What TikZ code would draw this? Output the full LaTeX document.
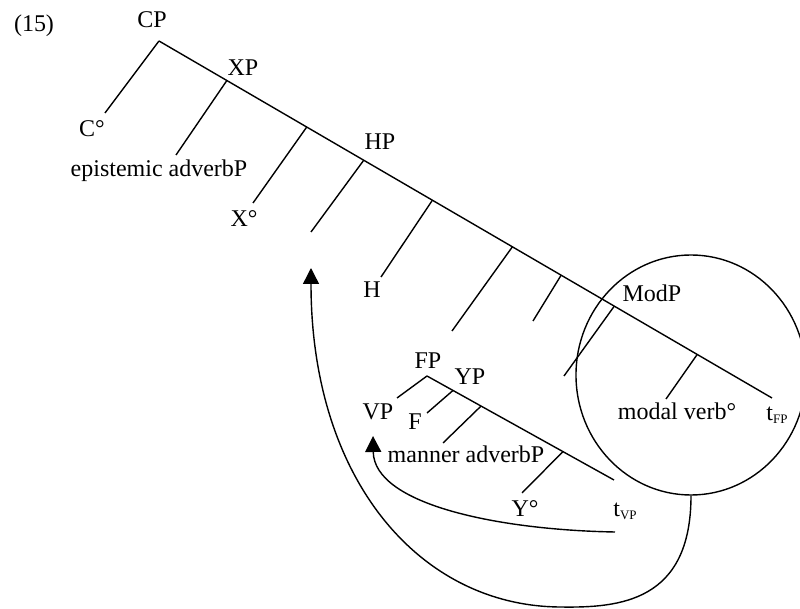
\documentclass[tikz,border=0pt]{standalone}
\usepackage{fontspec}
\setmainfont{Liberation Serif}
\usetikzlibrary{arrows.meta,shapes.geometric,calc}
\newcommand{\lsub}[1]{{\fontsize{6.5}{7}\selectfont\raisebox{-0.45ex}{#1}}}
\begin{document}
\begin{tikzpicture}[x=0.5pt,y=-0.5pt, line width=0.7pt,
  lbl/.style={anchor=base, inner sep=0pt, font=\fontsize{12}{14}\selectfont},
  branch/.style={draw, line width=0.7pt},
  mv/.style={draw, line width=0.7pt, -{Triangle[width=8pt,length=8pt]}},
  ring/.style={draw, ellipse, line width=0.7pt, inner sep=0pt, minimum width=115pt, minimum height=120pt}]
\useasboundingbox (0,0) rectangle (800,609);

% main spine
\coordinate (cp) at (159,41);
\coordinate (tfpend) at (772,398);
\coordinate (xp) at ($(cp)!0.1107!(tfpend)$);
\coordinate (xbar) at ($(cp)!0.241!(tfpend)$);
\coordinate (hp) at ($(cp)!0.334!(tfpend)$);
\coordinate (hbar) at ($(cp)!0.446!(tfpend)$);
\coordinate (s6) at ($(cp)!0.5765!(tfpend)$);
\coordinate (s7) at ($(cp)!0.656!(tfpend)$);
\coordinate (modp) at ($(cp)!0.7427!(tfpend)$);
\coordinate (modbar) at ($(cp)!0.878!(tfpend)$);

% leaf ends on main spine
\coordinate (cend) at (105,113);
\coordinate (epend) at (176,155);
\coordinate (xend) at (253,203);
\coordinate (hpgapend) at (311,232);
\coordinate (hend) at (381,277);
\coordinate (l6) at (452,331);
\coordinate (l7) at (533,321);
\coordinate (modend) at (564,376);
\coordinate (mvend) at (666,399);

\draw[branch] (cp) -- (tfpend);
\draw[branch] (cp) -- (cend);
\draw[branch] (xp) -- (epend);
\draw[branch] (xbar) -- (xend);
\draw[branch] (hp) -- (hpgapend);
\draw[branch] (hbar) -- (hend);
\draw[branch] (s6) -- (l6);
\draw[branch] (s7) -- (l7);
\draw[branch] (modp) -- (modend);
\draw[branch] (modbar) -- (mvend);

% FP subtree
\coordinate (fp) at (427,376);
\coordinate (tvpend) at (614,480);
\coordinate (yp) at ($(fp)!0.139!(tvpend)$);
\coordinate (ybar) at ($(fp)!0.289!(tvpend)$);
\coordinate (ybar2) at ($(fp)!0.727!(tvpend)$);
\coordinate (vpend) at (397,398);
\coordinate (fend) at (427,413);
\coordinate (manend) at (443,443);
\coordinate (yend) at (522,493);

\draw[branch] (fp) -- (tvpend);
\draw[branch] (fp) -- (vpend);
\draw[branch] (yp) -- (fend);
\draw[branch] (ybar) -- (manend);
\draw[branch] (ybar2) -- (yend);

% labels
\node[lbl] (ex) at (34,32) {(15)};
\node[lbl] (lcp) at (152,28) {CP};
\node[lbl] (lxp) at (243,76) {XP};
\node[lbl] (lc) at (92,137) {C°};
\node[lbl] (lep) at (159,177) {epistemic adverbP};
\node[lbl] (lx) at (244,227) {X°};
\node[lbl] (lhp) at (380,150) {HP};
\node[lbl] (lh) at (372,298) {H};
\node[lbl] (lmodp) at (652,302) {ModP};
\node[lbl] (lmv) at (677,420) {modal verb°};
\node[lbl] (ltfp) at (777,421) {t\lsub{FP}};
\node[lbl] (lfp) at (428,369) {FP};
\node[lbl] (lyp) at (470,385) {YP};
\node[lbl] (lvp) at (378,420) {VP};
\node[lbl] (lf) at (415,430) {F};
\node[lbl] (lman) at (466,463) {manner adverbP};
\node[lbl] (ly) at (525,517) {Y°};
\node[lbl] (ltvp) at (625,517) {t\lsub{VP}};

% circle round ModP
\node[ring] (ring) at (691,375) {};

% movement arrows
\coordinate (tvpfoot) at (615,532);
\coordinate (vpgap) at (373,436);
\coordinate (bottom) at (560,607);
\coordinate (hpgap) at (311,268);

\draw[mv] (tvpfoot) .. controls (500,530) and (374,505) .. (vpgap);
\draw[mv] (ring.south) .. controls ++(0,106) and (620,608) .. (bottom)
  .. controls (420,606) and (311,480) .. (hpgap);
\end{tikzpicture}
\end{document}
